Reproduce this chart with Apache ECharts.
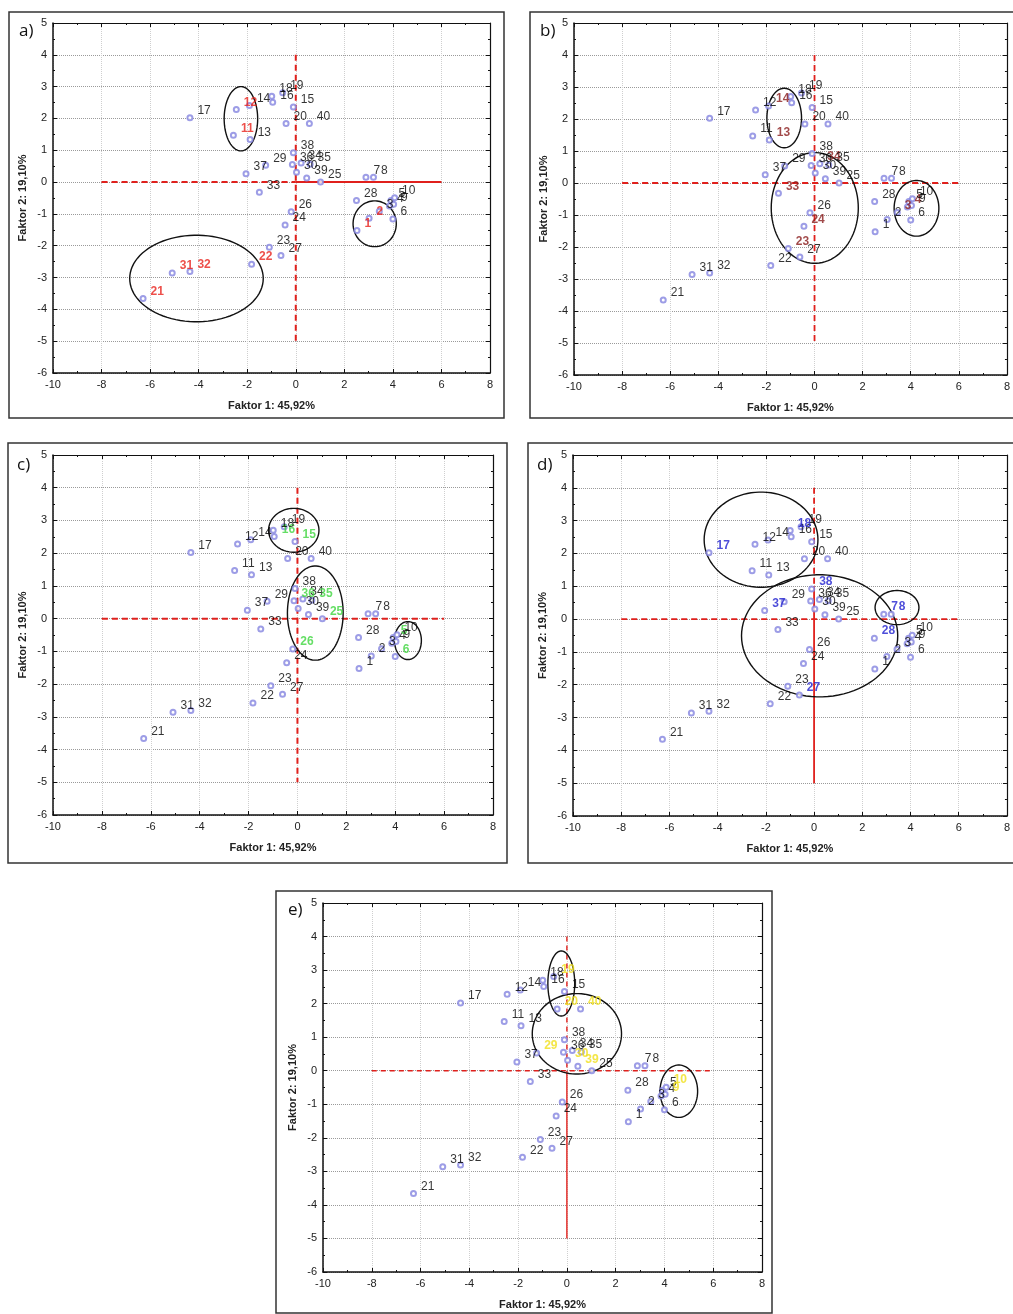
<!DOCTYPE html>
<html><head><meta charset="utf-8">
<script src="https://cdn.jsdelivr.net/npm/echarts@6/dist/echarts.min.js"></script>
<style>html,body{margin:0;padding:0;background:#fff}#c{width:1013px;height:1314px}</style>
</head><body><div id="c"></div>
<script>
// ---- data: object numbers and factor scores (Faktor 1, Faktor 2) ----
const ids = [1,2,3,4,5,6,7,8,9,10,11,12,13,14,15,16,17,18,19,20,21,22,23,24,25,26,27,28,29,30,31,32,33,34,35,36,37,38,39,40];
const f1 = [2.52,3.02,3.44,3.86,3.92,4.00,2.89,3.20,4.03,4.07,-2.57,-2.45,-1.88,-1.91,-0.10,-0.95,-4.36,-0.99,-0.54,-0.40,-6.29,-1.82,-1.09,-0.44,1.02,-0.19,-0.61,2.50,-1.24,0.03,-5.09,-4.36,-1.50,0.22,0.59,-0.14,-2.05,-0.10,0.45,0.56];
const f2 = [-1.52,-1.14,-0.92,-0.75,-0.58,-1.16,0.15,0.15,-0.70,-0.49,1.47,2.28,1.34,2.41,2.36,2.51,2.02,2.70,2.81,1.84,-3.66,-2.58,-2.05,-1.35,0.00,-0.93,-2.31,-0.58,0.53,0.31,-2.86,-2.81,-0.32,0.60,0.56,0.55,0.26,0.92,0.13,1.84];

// highlighted (coloured) labels per panel
const hlA = [1,2,11,12,21,22,31,32];
const hlB = [3,4,13,14,23,24,33,34];
const hlC = [5,6,15,16,25,26,35,36];
const hlD = [7,8,17,18,27,28,37,38];
const hlE = [9,10,19,20,29,30,39,40];

// ellipses per panel: [centre F1, centre F2, radius F1, radius F2]
const ellA = [[-2.26,1.99,0.69,1.01],[-4.09,-3.03,2.75,1.36],[3.25,-1.31,0.89,0.72]];
const ellB = [[-1.26,2.03,0.72,0.93],[0.01,-0.78,1.81,1.73],[4.24,-0.79,0.93,0.87]];
const ellC = [[-0.15,2.70,1.03,0.67],[0.73,0.17,1.14,1.44],[4.52,-0.67,0.55,0.58]];
const ellD = [[-2.20,2.42,2.36,1.45],[0.23,-0.51,3.24,1.86],[3.44,0.35,0.91,0.52]];
const ellE = [[-0.23,2.60,0.55,0.97],[0.41,1.10,1.83,1.20],[4.59,-0.61,0.77,0.78]];

// red reference lines: [x1,y1,x2,y2,dashed]
const refA = [[-8,0,0,0,1],[0,0,6,0,0],[0,4,0,-5,1]];
const refB = [[-8,0,6,0,1],[0,4,0,-5,1]];
const refC = [[-8,0,6,0,1],[0,4,0,-5,1]];
const refD = [[-8,0,6,0,1],[0,4,0,1,1],[0,1,0,-5,0]];
const refE = [[-8,0,6,0,1],[0,4,0,0,1],[0,0,0,-5,0]];

const xTitle = 'Faktor 1: 45,92%';
const yTitle = 'Faktor 2: 19,10%';

const FONT = '"Liberation Sans", Arial, sans-serif';

const panels = [
  {letter:'a)', grid:{left:53, top:23, width:437, height:350}, box:[9,12,495,406], lpos:[19,31], hl:hlA, col:'#e8231d', ell:ellA, ref:refA, lw:2, dash:[6,4]},
  {letter:'b)', grid:{left:574, top:23, width:440, height:352}, box:[530,12,500,406], lpos:[540,31], hl:hlB, col:'#8a1b1b', ell:ellB, ref:refB, lw:1.8, dash:[6,4]},
  {letter:'c)', grid:{left:53, top:455, width:440, height:360}, box:[8,443,499,420], lpos:[17,465], hl:hlC, col:'#3fd63f', ell:ellC, ref:refC, lw:2, dash:[6,4]},
  {letter:'d)', grid:{left:573, top:455, width:444, height:361}, box:[528,443,500,420], lpos:[537,465], hl:hlD, col:'#2222d0', ell:ellD, ref:refD, lw:1.8, dash:[6,4]},
  {letter:'e)', grid:{left:323, top:903, width:439, height:369}, box:[276,891,496,422], lpos:[288,910], hl:hlE, col:'#f0e01a', ell:ellE, ref:refE, lw:1.4, dash:[5,4]}
];

const grids=[], xAxes=[], yAxes=[], series=[], graphics=[];
panels.forEach((p,i)=>{
  grids.push(Object.assign({show:false}, p.grid));
  xAxes.push({gridIndex:i, type:'value', min:-10, max:8, interval:2, position:'bottom',
    name:xTitle, nameLocation:'middle', nameGap:27,
    nameTextStyle:{fontWeight:'bold', fontSize:11, color:'#222', fontFamily:FONT},
    axisLine:{onZero:false, lineStyle:{color:'#111', width:1.5}},
    axisTick:{inside:true, length:4, lineStyle:{color:'#111'}},
    minorTick:{show:true, splitNumber:2, length:2, lineStyle:{color:'#111'}},
    axisLabel:{fontSize:11, color:'#222', margin:6, fontFamily:FONT},
    splitLine:{show:true, lineStyle:{color:'#cfcfcf', type:'dotted'}}
  });
  xAxes.push({gridIndex:i, type:'value', min:-10, max:8, interval:2, position:'top',
    axisLine:{onZero:false, lineStyle:{color:'#111', width:1.2}},
    axisTick:{inside:true, length:4, lineStyle:{color:'#111'}},
    minorTick:{show:true, splitNumber:2, length:2, lineStyle:{color:'#111'}},
    axisLabel:{show:false}, splitLine:{show:false}
  });
  yAxes.push({gridIndex:i, type:'value', min:-6, max:5, interval:1, position:'left',
    name:yTitle, nameLocation:'middle', nameGap:25,
    nameTextStyle:{fontWeight:'bold', fontSize:11, color:'#222', fontFamily:FONT},
    axisLine:{onZero:false, lineStyle:{color:'#111', width:1.5}},
    axisTick:{inside:true, length:4, lineStyle:{color:'#111'}},
    minorTick:{show:true, splitNumber:2, length:2, lineStyle:{color:'#111'}},
    axisLabel:{fontSize:11, color:'#222', margin:6, fontFamily:FONT},
    splitLine:{show:true, lineStyle:{color:'#9a9a9a', type:'dotted'}}
  });
  yAxes.push({gridIndex:i, type:'value', min:-6, max:5, interval:1, position:'right',
    axisLine:{onZero:false, lineStyle:{color:'#111', width:1.2}},
    axisTick:{inside:true, length:4, lineStyle:{color:'#111'}},
    minorTick:{show:true, splitNumber:2, length:2, lineStyle:{color:'#111'}},
    axisLabel:{show:false}, splitLine:{show:false}
  });

  series.push({type:'custom', xAxisIndex:2*i, yAxisIndex:2*i, data:p.ref, silent:true, z:2,
    renderItem:(params, api)=>{
      const a = api.coord([api.value(0), api.value(1)]);
      const b = api.coord([api.value(2), api.value(3)]);
      return {type:'line', shape:{x1:a[0], y1:a[1], x2:b[0], y2:b[1]},
        style:{stroke:'#e0201c', lineWidth:p.lw, lineDash: api.value(4) ? p.dash : null}};
    }
  });
  series.push({type:'custom', xAxisIndex:2*i, yAxisIndex:2*i, data:p.ell, silent:true, z:3,
    renderItem:(params, api)=>{
      const cx=api.value(0), cy=api.value(1), rx=api.value(2), ry=api.value(3);
      const pts=[];
      for(let k=0;k<90;k++){
        const t=k/90*2*Math.PI;
        pts.push(api.coord([cx+rx*Math.cos(t), cy+ry*Math.sin(t)]));
      }
      return {type:'polygon', shape:{points:pts}, style:{fill:'none', stroke:'#111', lineWidth:1.4}};
    }
  });
  series.push({type:'scatter', xAxisIndex:2*i, yAxisIndex:2*i, z:4, silent:true,
    symbol:'emptyCircle', symbolSize:5,
    itemStyle:{color:'#8585e0', borderColor:'#8585e0', borderWidth:0.8},
    label:{show:true, position:'right', distance:4, offset:[0,-7], formatter:'{b}',
      color:'#000', fontSize:12, fontFamily:FONT},
    data: ids.map((id,k)=>{
      const d = {name:String(id), value:[f1[k], f2[k]]};
      if(p.hl.includes(id)) d.label = {color:p.col, fontWeight:'bold'};
      return d;
    })
  });

  graphics.push({type:'rect', shape:{x:p.box[0], y:p.box[1], width:p.box[2], height:p.box[3]},
    style:{fill:'none', stroke:'#333', lineWidth:1.5}, silent:true, z:1});
  graphics.push({type:'text', x:p.lpos[0], y:p.lpos[1],
    style:{text:p.letter, fontSize:17, fontFamily:'"Open Sans", "Liberation Sans", sans-serif', fill:'#111', verticalAlign:'middle'}, silent:true});
});

const chart = echarts.init(document.getElementById('c'));
chart.setOption({
  animation:false,
  backgroundColor:'#fff',
  grid:grids, xAxis:xAxes, yAxis:yAxes, series:series,
  graphic:{elements:graphics}
});
</script>
</body></html>
